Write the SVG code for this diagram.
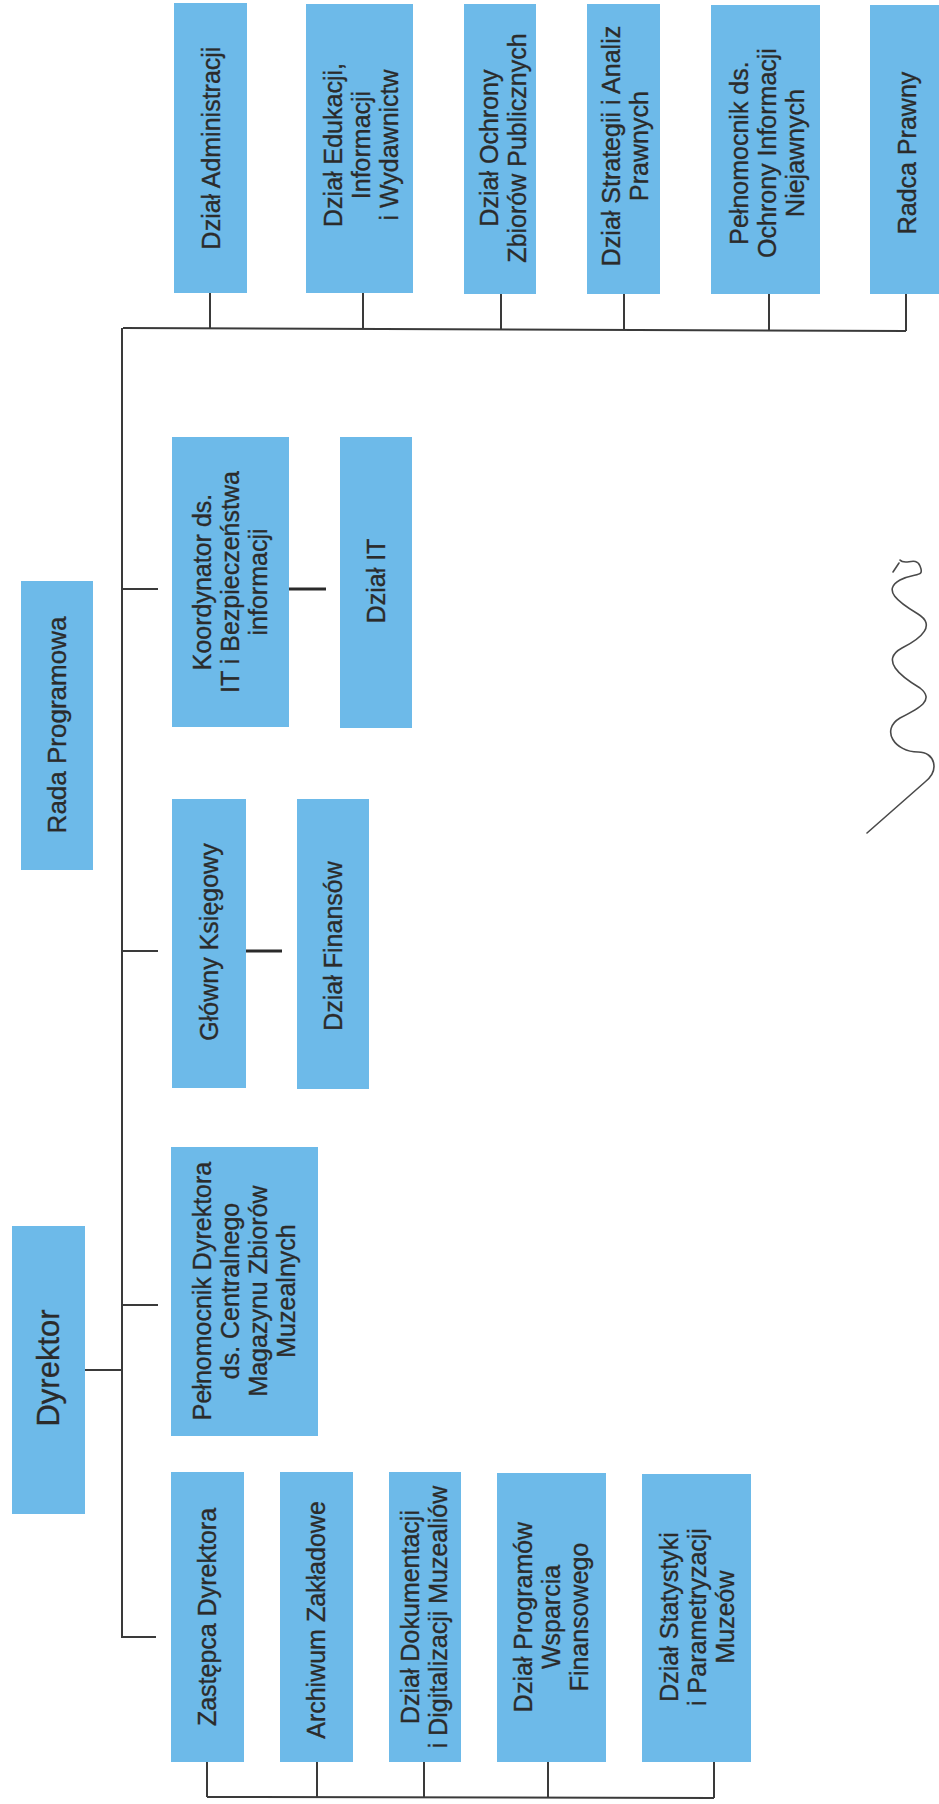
<svg xmlns="http://www.w3.org/2000/svg" width="939" height="1804" viewBox="0 0 939 1804">
<style>
.box{fill:#6DBAE9}
.t{font-family:"Liberation Sans",Arial,sans-serif;font-size:25px;fill:#2b2b2b;stroke:#2b2b2b;stroke-width:0.35;text-anchor:middle}
.ln{stroke:#3a3a3a;stroke-width:2;fill:none}
.lt{stroke:#2a2a2a;stroke-width:3;fill:none}
.sig{stroke:#4a4a4a;stroke-width:1.6;fill:none;stroke-linecap:round;stroke-linejoin:round}
</style>
<rect width="939" height="1804" fill="#ffffff"/>
<g id="connectors">
<path class="ln" d="M123,328 L906,331"/>
<path class="ln" d="M210,293 V329 M363,293 V329 M501,294 V330 M624,294 V330 M769,294 V331 M906,294 V331"/>
<path class="ln" d="M122,328 V1637 H156"/>
<path class="ln" d="M122,589 H158 M122,951 H158 M122,1305 H158 M85,1370 H122"/>
<path class="lt" d="M289,589 H326"/>
<path class="lt" d="M246,951 H282"/>
<path class="ln" d="M207,1762 V1797 M317,1762 V1797 M424,1762 V1798 M548,1762 V1798 M714,1762 V1798 M207,1797 L714,1798"/>
</g>
<g id="n-administracja"><rect class="box" x="174" y="3" width="73" height="290"/>
<text class="t" transform="translate(211,148) rotate(-90)"><tspan x="0" y="9">Dział Administracji</tspan></text></g>
<g id="n-edukacja"><rect class="box" x="306" y="4" width="107" height="289"/>
<text class="t" transform="translate(361,145) rotate(-90)"><tspan x="0" y="-19">Dział Edukacji,</tspan><tspan x="0" y="9">Informacji</tspan><tspan x="0" y="37">i Wydawnictw</tspan></text></g>
<g id="n-ochrona"><rect class="box" x="464" y="4" width="72" height="290"/>
<text class="t" transform="translate(503,148) rotate(-90)"><tspan x="0" y="-5">Dział Ochrony</tspan><tspan x="0" y="23">Zbiorów Publicznych</tspan></text></g>
<g id="n-strategia"><rect class="box" x="587" y="4" width="73" height="290"/>
<text class="t" transform="translate(625,146) rotate(-90)"><tspan x="0" y="-5">Dział Strategii i Analiz</tspan><tspan x="0" y="23">Prawnych</tspan></text></g>
<g id="n-pelnomocnik-oin"><rect class="box" x="711" y="5" width="109" height="289"/>
<text class="t" transform="translate(767,153) rotate(-90)"><tspan x="0" y="-19">Pełnomocnik ds.</tspan><tspan x="0" y="9">Ochrony Informacji</tspan><tspan x="0" y="37">Niejawnych</tspan></text></g>
<g id="n-radca"><rect class="box" x="870" y="5" width="69" height="289"/>
<text class="t" transform="translate(907,153) rotate(-90)"><tspan x="0" y="9">Radca Prawny</tspan></text></g>
<g id="n-rada"><rect class="box" x="21" y="581" width="72" height="289"/>
<text class="t" style="font-size:26px" transform="translate(57,725) rotate(-90)"><tspan x="0" y="9">Rada Programowa</tspan></text></g>
<g id="n-koordynator"><rect class="box" x="172" y="437" width="117" height="290"/>
<text class="t" transform="translate(230,582) rotate(-90)"><tspan x="0" y="-19">Koordynator ds.</tspan><tspan x="0" y="9">IT i Bezpieczeństwa</tspan><tspan x="0" y="37">informacji</tspan></text></g>
<g id="n-dzial-it"><rect class="box" x="340" y="437" width="72" height="291"/>
<text class="t" transform="translate(376,581) rotate(-90)"><tspan x="0" y="9">Dział IT</tspan></text></g>
<g id="n-glowny-ksiegowy"><rect class="box" x="172" y="799" width="74" height="289"/>
<text class="t" transform="translate(209,942) rotate(-90)"><tspan x="0" y="9">Główny Księgowy</tspan></text></g>
<g id="n-finanse"><rect class="box" x="297" y="799" width="72" height="290"/>
<text class="t" transform="translate(333,946) rotate(-90)"><tspan x="0" y="9">Dział Finansów</tspan></text></g>
<g id="n-pelnomocnik-dyr"><rect class="box" x="171" y="1147" width="147" height="289"/>
<text class="t" transform="translate(244,1291) rotate(-90)"><tspan x="0" y="-33">Pełnomocnik Dyrektora</tspan><tspan x="0" y="-5">ds. Centralnego</tspan><tspan x="0" y="23">Magazynu Zbiorów</tspan><tspan x="0" y="51">Muzealnych</tspan></text></g>
<g id="n-dyrektor"><rect class="box" x="12" y="1226" width="73" height="288"/>
<text class="t" style="font-size:31px" transform="translate(48,1368) rotate(-90)"><tspan x="0" y="11">Dyrektor</tspan></text></g>
<g id="n-zastepca"><rect class="box" x="171" y="1472" width="73" height="290"/>
<text class="t" transform="translate(207,1617) rotate(-90)"><tspan x="0" y="9">Zastępca Dyrektora</tspan></text></g>
<g id="n-archiwum"><rect class="box" x="280" y="1472" width="73" height="290"/>
<text class="t" transform="translate(316,1620) rotate(-90)"><tspan x="0" y="9">Archiwum Zakładowe</tspan></text></g>
<g id="n-dokumentacja"><rect class="box" x="389" y="1472" width="72" height="290"/>
<text class="t" transform="translate(424,1617) rotate(-90)"><tspan x="0" y="-5">Dział Dokumentacji</tspan><tspan x="0" y="23">i Digitalizacji Muzealiów</tspan></text></g>
<g id="n-programy"><rect class="box" x="497" y="1473" width="109" height="289"/>
<text class="t" transform="translate(551,1617) rotate(-90)"><tspan x="0" y="-19">Dział Programów</tspan><tspan x="0" y="9">Wsparcia</tspan><tspan x="0" y="37">Finansowego</tspan></text></g>
<g id="n-statystyka"><rect class="box" x="642" y="1474" width="109" height="288"/>
<text class="t" transform="translate(697,1617) rotate(-90)"><tspan x="0" y="-19">Dział Statystyki</tspan><tspan x="0" y="9">i Parametryzacji</tspan><tspan x="0" y="37">Muzeów</tspan></text></g>
<g id="signature">
<path class="sig" d="M867,833 L925,782 C940,770 935,752 918,752 C895,752 880,730 900,718 C920,708 935,700 920,688 C900,676 880,660 902,648 C922,638 936,625 918,614 C898,602 882,590 900,580 C915,572 925,578 920,566 C916,556 905,566 900,560"/>
<path class="sig" d="M893,572 L899,563"/>
</g>
</svg>
